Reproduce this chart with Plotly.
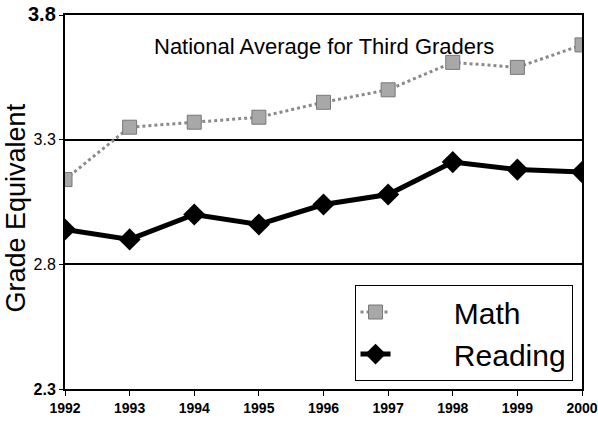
import plotly.graph_objects as go

YEARS = [1992, 1993, 1994, 1995, 1996, 1997, 1998, 1999, 2000]
MATH = [3.14, 3.35, 3.37, 3.39, 3.45, 3.50, 3.61, 3.59, 3.68]
READING = [2.94, 2.90, 3.00, 2.96, 3.04, 3.08, 3.21, 3.18, 3.17]

Y_TICKS = [2.3, 2.8, 3.3, 3.8]
Y_TICK_LABELS = ["<b>2.3</b>", "2.8", "3.3", "<b><span style='font-size:20px'>3.8</span></b>"]
X_TICK_LABELS = [f"<b>{y}</b>" for y in YEARS]

PAD = "\u00a0" * 7  # push legend text right like the original wide key


def main():
    fig = go.Figure()

    fig.add_trace(go.Scatter(
        x=YEARS, y=MATH, name=PAD + "Math", mode="lines+markers",
        line=dict(color="#8a8a8a", width=3, dash="dot"),
        marker=dict(symbol="square", size=14, color="#a8a8a8",
                    line=dict(color="#777777", width=1)),
    ))
    fig.add_trace(go.Scatter(
        x=YEARS, y=READING, name=PAD + "Reading", mode="lines+markers",
        line=dict(color="black", width=5),
        marker=dict(symbol="diamond", size=17, color="black"),
    ))

    # chart title inside the plot
    fig.add_annotation(
        xref="paper", yref="paper", x=0.5, y=0.955,
        text="National Average for Third Graders",
        showarrow=False, font=dict(size=22, color="black"),
    )
    # y axis title
    fig.add_annotation(
        xref="paper", yref="paper", x=-0.095, y=0.485,
        xanchor="center", yanchor="middle",
        text="Grade Equivalent", textangle=-90,
        showarrow=False, font=dict(size=27, color="black"),
    )

    fig.update_layout(
        width=598, height=421,
        margin=dict(l=65, r=16, t=15, b=32),
        plot_bgcolor="white", paper_bgcolor="white",
        font=dict(family="Arial, Liberation Sans, sans-serif", color="black"),
        legend=dict(
            x=0.56, y=0.278, xanchor="left", yanchor="top",
            bordercolor="black", borderwidth=1, bgcolor="white",
            font=dict(size=30), tracegroupgap=0,
        ),
    )
    fig.update_xaxes(
        range=[1992, 2000], tickvals=YEARS, ticktext=X_TICK_LABELS,
        showgrid=False, zeroline=False, automargin=False,
        ticklabeloverflow="allow",
        showline=True, linecolor="black", linewidth=2, mirror=True,
        ticks="outside", ticklen=5, tickcolor="black",
        tickfont=dict(size=14, color="black"),
    )
    fig.update_yaxes(
        range=[2.3, 3.8], tickvals=Y_TICKS, ticktext=Y_TICK_LABELS,
        showgrid=True, gridcolor="black", gridwidth=1.5, zeroline=False,
        automargin=False,
        showline=True, linecolor="black", linewidth=2, mirror=True,
        ticks="outside", ticklen=4, tickcolor="black",
        tickfont=dict(size=16, color="black"),
    )

    fig.write_html(
        "out.html",
        config={"displayModeBar": False},
        post_script="document.body.style.margin='0';",
    )


if __name__ == "__main__":
    main()
